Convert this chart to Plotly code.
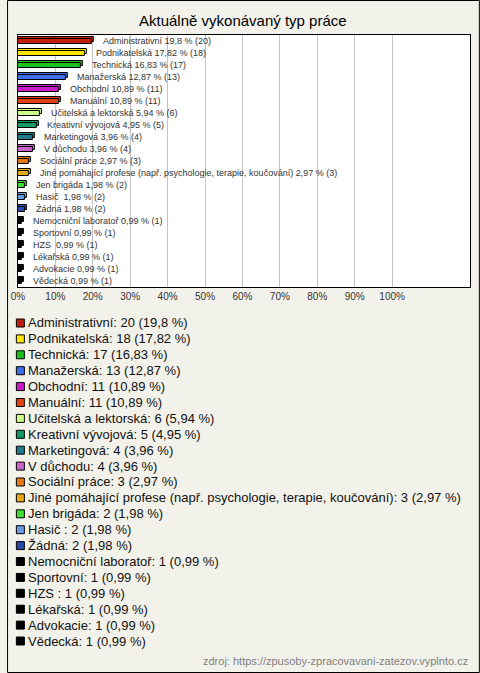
import plotly.graph_objects as go

categories = [
    "Administrativní", "Podnikatelská", "Technická", "Manažerská", "Obchodní",
    "Manuální", "Učitelská a lektorská", "Kreativní vývojová", "Marketingová",
    "V důchodu", "Sociální práce",
    "Jiné pomáhající profese (např. psychologie, terapie, koučování)",
    "Jen brigáda", "Hasič ", "Žádná", "Nemocniční laboratoř", "Sportovní",
    "HZS ", "Lékařská", "Advokacie", "Vědecká",
]
counts = [20, 18, 17, 13, 11, 11, 6, 5, 4, 4, 3, 3, 2, 2, 2, 1, 1, 1, 1, 1, 1]
percents = [19.8, 17.82, 16.83, 12.87, 10.89, 10.89, 5.94, 4.95, 3.96, 3.96,
            2.97, 2.97, 1.98, 1.98, 1.98, 0.99, 0.99, 0.99, 0.99, 0.99, 0.99]
colors = ["#c0200f", "#ffe600", "#1fbf1f", "#3f6fe8", "#c81ec8", "#e0420f",
          "#ccff88", "#129a62", "#1f7a8c", "#c864c8", "#e67817", "#e6a817",
          "#44dd33", "#6a9ae0", "#2a4aaa", "#000000", "#000000", "#000000",
          "#000000", "#000000", "#000000"]
tick_values = [0, 10, 20, 30, 40, 50, 60, 70, 80, 90, 100]
tick_labels = [f"{v}%" for v in tick_values]

title_text = "Aktuálně vykonávaný typ práce"
source_text = "zdroj: https://zpusoby-zpracovavani-zatezov.vyplnto.cz"

W, H = 480, 673
ML, MR, MT, MB = 4, 10, 35, 20
PW, PH = W - ML - MR, H - MT - MB

def fx(px):
    return (px - ML) / PW

def fy(py):
    return (H - MB - py) / PH

def fmt(p):
    return str(p).replace(".", ",")

n = len(categories)
idx = list(range(n))
bg = "#f3f2ea"
FONT = "Liberation Sans, Arial, sans-serif"

fig = go.Figure()

# 3D depth (back face)
fig.add_trace(go.Bar(
    x=[p + 0.55 for p in percents], y=idx, orientation="h",
    width=0.4, offset=-0.32,
    marker=dict(color=colors, line=dict(color="#000000", width=1)),
    xaxis="x", yaxis="y", hoverinfo="skip",
))
# front face
fig.add_trace(go.Bar(
    x=percents, y=idx, orientation="h",
    width=0.4, offset=-0.18,
    marker=dict(color=colors, line=dict(color="#000000", width=1)),
    xaxis="x", yaxis="y",
))

# legend markers drawn as a scatter in a lower subplot
legend_labels = [f"{c}: {k} ({fmt(p)} %)" for c, k, p in zip(categories, counts, percents)]
LEG_MARK_X = 13.5 - ML
LEG_TEXT_X = 19.5 - ML
fig.add_trace(go.Scatter(
    x=[LEG_MARK_X] * n, y=idx, mode="markers",
    marker=dict(symbol="square", size=8, color=colors,
                line=dict(color="#000000", width=1)),
    xaxis="x2", yaxis="y2", cliponaxis=False, hoverinfo="skip",
))

annotations = []
for i, lab in enumerate(legend_labels):
    annotations.append(dict(
        x=LEG_TEXT_X, y=i, xref="x2", yref="y2", xanchor="left", yanchor="middle",
        text=lab, showarrow=False,
        font=dict(family=FONT, size=13, color="#111111"),
    ))
for i, (c, k, p) in enumerate(zip(categories, counts, percents)):
    annotations.append(dict(
        x=p, y=i, xref="x", yref="y", xanchor="left", yanchor="middle",
        xshift=9, text=f"{c} {fmt(p)} % ({k})", showarrow=False,
        font=dict(family=FONT, size=9, color="#333333"),
    ))
annotations.append(dict(
    x=1, y=fy(661), xref="paper", yref="paper", xanchor="right", yanchor="middle",
    text=source_text, showarrow=False,
    font=dict(family=FONT, size=11, color="#808080"),
))
annotations.append(dict(
    x=fx(240), y=fy(20), xref="paper", yref="paper", xanchor="center", yanchor="middle",
    text=title_text, showarrow=False,
    font=dict(family=FONT, size=15, color="#000000"),
))

shapes = [
    dict(type="rect", xref="x domain", yref="y domain", x0=0, x1=1, y0=0, y1=1,
         fillcolor="#ffffff", line=dict(width=0), layer="below"),
    dict(type="rect", xref="paper", yref="paper",
         x0=fx(0.5), x1=fx(W - 0.5), y0=fy(H - 0.5), y1=fy(0.5),
         line=dict(color="#000000", width=1), fillcolor="rgba(0,0,0,0)", layer="above"),
]

top_main = 35
bot_main = 287

leg_top, leg_bot = 315, 653
leg_first, leg_step = 323, 15.9

fig.update_layout(
    width=W, height=H,
    margin=dict(l=ML, r=MR, t=MT, b=MB),
    paper_bgcolor=bg, plot_bgcolor=bg,
    showlegend=False, barmode="overlay", bargap=0,
    annotations=annotations, shapes=shapes,
    xaxis=dict(
        domain=[fx(11), 1], range=[0, 120.8],
        tickvals=tick_values, ticktext=tick_labels,
        tickfont=dict(family=FONT, size=10, color="#333333"),
        showgrid=True, gridcolor="#c4c4c4", gridwidth=1, zeroline=False,
        showline=True, linecolor="#000000", linewidth=1, mirror=True, ticks="",
        fixedrange=True,
    ),
    yaxis=dict(
        domain=[fy(bot_main), fy(top_main)], range=[n - 0.5, -0.5],
        showticklabels=False, showgrid=False, zeroline=False,
        showline=True, linecolor="#000000", linewidth=1, mirror=True, ticks="",
    ),
    xaxis2=dict(
        domain=[0, 1], range=[0, PW], anchor="y2",
        visible=False, showgrid=False, zeroline=False,
    ),
    yaxis2=dict(
        domain=[fy(leg_bot), fy(leg_top)],
        range=[(leg_bot - leg_first) / leg_step, (leg_top - leg_first) / leg_step],
        anchor="x2", visible=False, showgrid=False, zeroline=False,
    ),
)

fig.write_html(
    "out.html",
    config={"displayModeBar": False},
    post_script="document.body.style.margin='0';document.body.style.overflow='hidden';",
)
